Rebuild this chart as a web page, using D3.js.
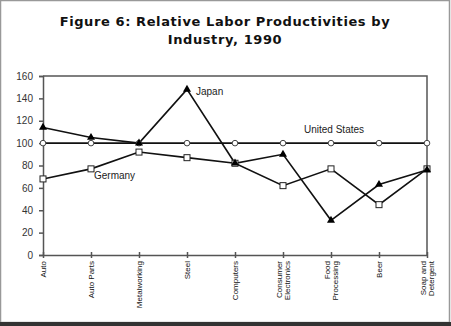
<!DOCTYPE html>
<html>
<head>
<meta charset="utf-8">
<script src="https://cdn.jsdelivr.net/npm/d3@7"></script>
<style>
  body { margin: 0; background: #fff; }
  svg { display: block; }
</style>
</head>
<body>
<svg id="chart" width="451" height="326"></svg>
<script>
const categories = ["Auto", "Auto Parts", "Metalworking", "Steel", "Computers",
  "Consumer Electronics", "Food Processing", "Beer", "Soap and Detergent"];
const categoryLines = [["Auto"], ["Auto Parts"], ["Metalworking"], ["Steel"], ["Computers"],
  ["Consumer", "Electronics"], ["Food", "Processing"], ["Beer"], ["Soap and", "Detergent"]];
const japan = [114, 105, 100, 148, 82, 90, 31, 63, 76];
const germany = [68, 77, 92, 87, 82, 62, 77, 45, 77];
const unitedStates = [100, 100, 100, 100, 100, 100, 100, 100, 100];
const yTicks = [0, 20, 40, 60, 80, 100, 120, 140, 160];
const titleLines = ["Figure 6: Relative Labor Productivities by", "Industry, 1990"];

const svg = d3.select("#chart");

// outer frame
svg.append("rect").attr("x", 0.5).attr("y", 0.5).attr("width", 449).attr("height", 322)
  .attr("fill", "none").attr("stroke", "#999").attr("stroke-width", 1.5);
svg.append("rect").attr("x", 0).attr("y", 322).attr("width", 451).attr("height", 4).attr("fill", "#333");

// title
svg.append("g").selectAll("text").data(titleLines).join("text")
  .attr("x", 225).attr("y", (d, i) => 26 + i * 18)
  .attr("text-anchor", "middle")
  .attr("font-family", "DejaVu Sans").attr("font-weight", "bold").attr("font-size", 13)
  .attr("letter-spacing", 0.6)
  .attr("fill", "#111")
  .text(d => d);

const x = d3.scalePoint().domain(categories).range([43, 427]);
const y = d3.scaleLinear().domain([0, 160]).range([255, 76]);

// plot frame (top and right)
svg.append("path")
  .attr("d", `M${x.range()[0]},${y(160)}H${x.range()[1]}V${y(0)}`)
  .attr("fill", "none").attr("stroke", "#555").attr("stroke-width", 1.5);

// y axis
const yAxis = svg.append("g").attr("transform", `translate(${x.range()[0]},0)`)
  .call(d3.axisLeft(y).tickValues(yTicks).tickSize(4).tickPadding(6));
yAxis.select(".domain").attr("stroke", "#555").attr("stroke-width", 1.5);
yAxis.selectAll(".tick line").attr("stroke", "#555").attr("stroke-width", 1.5);
yAxis.selectAll(".tick text").attr("font-family", "Liberation Sans").attr("font-size", 10).attr("fill", "#333");

// x axis
const xAxis = svg.append("g").attr("transform", `translate(0,${y(0)})`)
  .call(d3.axisBottom(x).tickSize(3).tickSizeOuter(0).tickFormat(""));
xAxis.select(".domain").attr("stroke", "#555").attr("stroke-width", 1.5);
xAxis.selectAll(".tick line").attr("stroke", "#555").attr("stroke-width", 1.5).attr("y1", -3);

// x labels (rotated)
const lab = svg.append("g");
categories.forEach((c, i) => {
  const lines = categoryLines[i];
  const g = lab.append("g").attr("transform", `translate(${x(c)},${y(0) + 6}) rotate(-90)`);
  lines.forEach((ln, j) => {
    const off = (j - (lines.length - 1) / 2) * 8;
    g.append("text").attr("x", 0).attr("y", off + 3)
      .attr("text-anchor", "end")
      .attr("font-family", "Liberation Sans").attr("font-size", 8).attr("fill", "#111")
      .text(ln);
  });
});

const line = d3.line().x((d, i) => x(categories[i])).y(d => y(d));

function series(vals) {
  svg.append("path").datum(vals).attr("d", line)
    .attr("fill", "none").attr("stroke", "#111").attr("stroke-width", 1.6);
}
series(unitedStates);
series(germany);
series(japan);

// markers
svg.append("g").selectAll("circle").data(unitedStates).join("circle")
  .attr("cx", (d, i) => x(categories[i])).attr("cy", d => y(d)).attr("r", 2.8)
  .attr("fill", "#fff").attr("stroke", "#444").attr("stroke-width", 1);
svg.append("g").selectAll("rect").data(germany).join("rect")
  .attr("x", (d, i) => x(categories[i]) - 3).attr("y", d => y(d) - 3)
  .attr("width", 6).attr("height", 6)
  .attr("fill", "#fff").attr("stroke", "#222").attr("stroke-width", 1);
svg.append("g").selectAll("path").data(japan).join("path")
  .attr("d", d3.symbol().type(d3.symbolTriangle).size(28))
  .attr("transform", (d, i) => `translate(${x(categories[i])},${y(d)})`)
  .attr("fill", "#000");

// annotations
const notes = [
  { t: "Japan", cat: "Steel", v: 148, dx: 9, dy: 6 },
  { t: "United States", cat: "Consumer Electronics", v: 100, dx: 21, dy: -10 },
  { t: "Germany", cat: "Auto Parts", v: 77, dx: 3, dy: 10 }
];
svg.append("g").selectAll("text").data(notes).join("text")
  .attr("x", d => x(d.cat) + d.dx).attr("y", d => y(d.v) + d.dy)
  .attr("font-family", "Liberation Sans").attr("font-size", 10).attr("fill", "#222")
  .text(d => d.t);
</script>
</body>
</html>
